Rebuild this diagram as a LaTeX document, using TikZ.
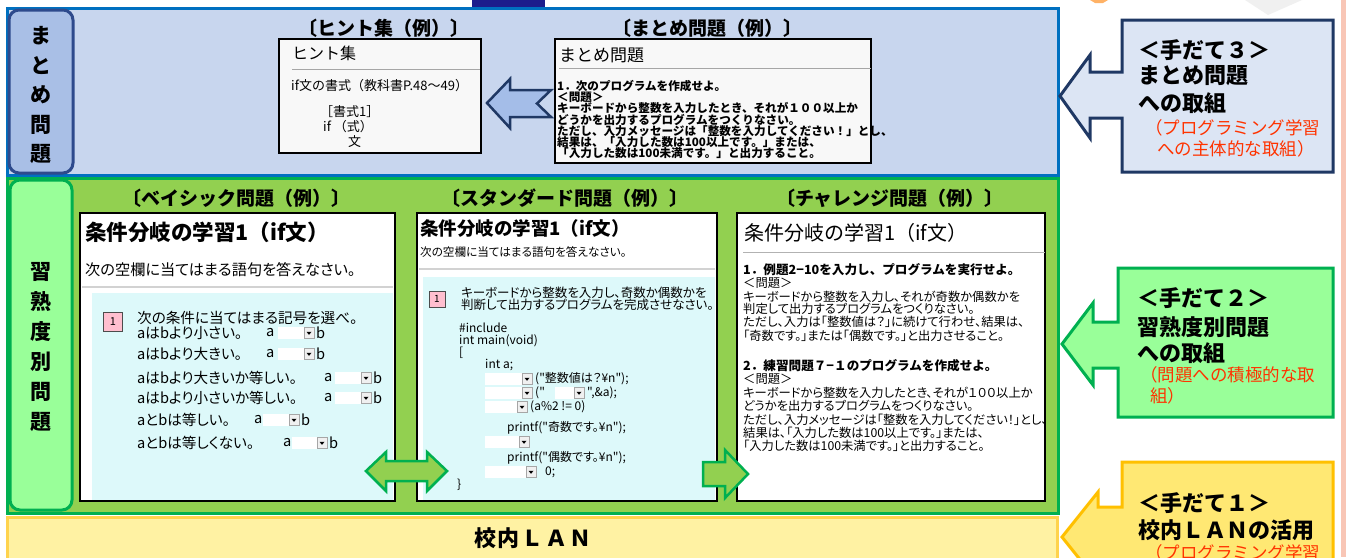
\documentclass[tikz,border=0pt]{standalone}
\usepackage{fontspec}
\setmainfont{Noto Sans CJK JP}
\newfontfamily\pfont{Noto Sans CJK JP}[RawFeature=+palt]
\newcommand\fsz[1]{\fontsize{#1}{#1}\selectfont}
\definecolor{secblue}{HTML}{C8D6EE}
\definecolor{secblueline}{HTML}{0070C0}
\definecolor{labblue}{HTML}{A9BFE6}
\definecolor{labblueline}{HTML}{2E4A8C}
\definecolor{navy}{HTML}{1F3864}
\definecolor{call3bg}{HTML}{DCE5F4}
\definecolor{secgreen}{HTML}{92D050}
\definecolor{greenline}{HTML}{00B050}
\definecolor{labgreen}{HTML}{99FF99}
\definecolor{lanbg}{HTML}{FFF2A3}
\definecolor{lanline}{HTML}{FFD34D}
\definecolor{call1bg}{HTML}{FFE873}
\definecolor{call1line}{HTML}{FFC000}
\definecolor{redtxt}{HTML}{FF3300}
\definecolor{cyanbg}{HTML}{DDF9FA}
\definecolor{hintbg}{HTML}{F8F8F8}
\definecolor{pinkbg}{HTML}{FFBFCF}
\definecolor{arrowblue}{HTML}{A4BDE8}
\definecolor{pinkstrip}{HTML}{F8C6B6}
\definecolor{topnavy}{HTML}{1C1C8C}
\begin{document}
\begin{tikzpicture}[x=1pt,y=-1pt,
  txt/.style={inner sep=0pt, anchor=west},
  ttl/.style={inner sep=0pt, font=\fsz{19}\bfseries},
  vlab/.style={inner sep=0pt, font=\fsz{21}\bfseries},
  calltxt/.style={inner sep=0pt, anchor=west, font=\fsz{22}\bfseries},
  redcall/.style={inner sep=0pt, anchor=west, font=\fsz{17.5}, text=redtxt},
  boxline/.style={draw=black, line width=1.5pt},
  small/.style={txt, font=\pfont\fsz{12.3}},
  chb/.style={txt, font=\fsz{12.6}\bfseries},
  sumb/.style={txt, font=\fsz{11.6}\bfseries},
  code/.style={txt, font=\pfont\fsz{12}},
  row/.style={txt, font=\pfont\fsz{14.6}},
  pinkbox/.style={draw=black!70, line width=1pt, fill=pinkbg, inner sep=0pt, minimum width=19pt, minimum height=19pt, font=\fsz{11}},
  grarrow/.style={draw=greenline, line width=2.5pt, fill=secgreen, line join=miter},
]
\useasboundingbox (0,0) rectangle (1346,557);
\fill[white] (0,0) rectangle (1346,557);
% decorations at the edges
\fill[topnavy] (472,0) rectangle (545,8);
\fill[orange!60] (1090,0) -- (1108,0) -- (1103,3) -- (1095,3) -- cycle;
\fill[black!6] (1245,0) -- (1302,0) -- (1268,15) -- cycle;
\fill[pinkstrip] (1341,0) rectangle (1346,557);

% ===== blue section =====
\draw[secblueline, line width=3pt, fill=secblue] (7,8) rectangle (1058,175);
\draw[labblueline, line width=3pt, fill=labblue, rounded corners=10pt] (9,10) rectangle (73,173);
\foreach \c [count=\i] in {ま,と,め,問,題}
  \node[vlab] (mlab\i) at (41,{36+29.5*(\i-1)}) {\c};

\node[ttl] (hintTitle) at (384,28) {〔ヒント集（例）〕};
\draw[boxline, fill=hintbg] (279,39) rectangle (481,153);
\node[txt, font=\fsz{16}] (hintHead) at (292,53) {ヒント集};
\draw[gray!70, line width=1pt] (292,69) -- (480,69);
\node[txt, font=\fsz{13}] (hint1) at (291,86) {if文の書式（教科書P.48〜49）};
\node[txt, font=\fsz{13}] (hint2) at (320,112) {［書式1］};
\node[txt, font=\fsz{13}] (hint3) at (323,127) {if\hspace{3pt}（式）};
\node[txt, font=\fsz{13}] (hint4) at (348,142) {文};

\node[ttl] (sumTitle) at (707,28) {〔まとめ問題（例）〕};
\draw[boxline, fill=hintbg] (555,39) rectangle (871,163);
\node[txt, font=\fsz{17}] (sumHead) at (559,55) {まとめ問題};
\draw[gray!70, line width=1pt] (559,68) -- (871,68);
\node[sumb] (sum1) at (557,86) {1．次のプログラムを作成せよ。};
\node[sumb] (sum2) at (557,97.2) {＜問題＞};
\node[sumb] (sum3) at (557,108.4) {キーボードから整数を入力したとき、それが１００以上か};
\node[sumb] (sum4) at (557,119.6) {どうかを出力するプログラムをつくりなさい。};
\node[sumb] (sum5) at (557,130.8) {ただし、入力メッセージは「整数を入力してください！」とし、};
\node[sumb] (sum6) at (557,142) {結果は、「入力した数は100以上です。」または、};
\node[sumb] (sum7) at (557,153.2) {「入力した数は100未満です。」と出力すること。};

% hollow blue arrow (hint <- summary)
\draw[navy, line width=2.5pt, fill=arrowblue, line join=miter]
  (487,103) -- (510,79) -- (510,90) -- (551,90) -- (537,103.5) -- (551,117) -- (510,117) -- (510,128) -- cycle;

% callout 3
\draw[navy, line width=3pt, fill=call3bg, line join=miter]
  (1122,20) -- (1333,20) -- (1333,172) -- (1122,172) -- (1122,118) -- (1090,118) -- (1090,138)
  -- (1060,96) -- (1090,55) -- (1090,72) -- (1122,72) -- cycle;
\node[calltxt] (c3a) at (1138,50) {＜手だて３＞};
\node[calltxt] (c3b) at (1138,76) {まとめ問題};
\node[calltxt] (c3c) at (1138,103) {への取組};
\node[redcall] (c3d) at (1145,128) {（プログラミング学習};
\node[redcall] (c3e) at (1157,149) {への主体的な取組）};

% ===== green section =====
\draw[greenline, line width=3pt, fill=secgreen] (7,178) rectangle (1058,513);
\draw[greenline, line width=3pt, fill=labgreen, rounded corners=10pt] (10,180) rectangle (72,510);
\foreach \c [count=\i] in {習,熟,度,別,問,題}
  \node[vlab] (glab\i) at (41,{272+30*(\i-1)}) {\c};

\node[ttl] (basicTitle) at (236,198) {〔ベイシック問題（例）〕};
\node[ttl] (stdTitle) at (565,198) {〔スタンダード問題（例）〕};
\node[ttl] (chTitle) at (890,198) {〔チャレンジ問題（例）〕};

% basic box
\draw[boxline, fill=white] (80,213) rectangle (395,501);
\fill[cyanbg] (92,293) rectangle (393,499.5);
\draw[gray!35, line width=1.5pt] (82,287) -- (393,287);
\node[txt, font=\fsz{21.5}\bfseries] (bT) at (85,232) {条件分岐の学習1（if文）};
\node[txt, font=\pfont\fsz{15.2}] (bS) at (85,270) {次の空欄に当てはまる語句を答えなさい。};
\node[pinkbox] (b1) at (113,322) {1};
\node[txt, font=\pfont\fsz{14.6}] (bQ) at (137,318) {次の条件に当てはまる記号を選べ。};

\newcommand\ddown[3]{%
  \fill[white] (#1,#2-6) rectangle (#3,#2+6);
  \draw[gray!70, line width=0.6pt, fill=gray!12] (#3-11,#2-5.5) rectangle (#3-1,#2+5.5);
  \fill[black] (#3-8.5,#2-1.2) -- (#3-3.5,#2-1.2) -- (#3-6,#2+1.8) -- cycle;}

\node[row] (r1) at (137,333) {aはbより小さい。};
\node[row] (r1a) at (266,333) {a}; \ddown{278}{333}{315}; \node[row] (r1b) at (316,333) {b};
\node[row] (r2) at (137,354) {aはbより大きい。};
\node[row] (r2a) at (266,354) {a}; \ddown{278}{354}{315}; \node[row] (r2b) at (316,354) {b};
\node[row] (r3) at (137,378) {aはbより大きいか等しい。};
\node[row] (r3a) at (324,378) {a}; \ddown{335}{378}{372}; \node[row] (r3b) at (373,378) {b};
\node[row] (r4) at (137,398) {aはbより小さいか等しい。};
\node[row] (r4a) at (324,398) {a}; \ddown{335}{398}{372}; \node[row] (r4b) at (373,398) {b};
\node[row] (r5) at (137,420) {aとbは等しい。};
\node[row] (r5a) at (254,420) {a}; \ddown{263}{420}{300}; \node[row] (r5b) at (301,420) {b};
\node[row] (r6) at (137,443) {aとbは等しくない。};
\node[row] (r6a) at (283,443) {a}; \ddown{292}{443}{328}; \node[row] (r6b) at (329,443) {b};

% standard box
\draw[boxline, fill=white] (417,213) rectangle (717,501);
\fill[cyanbg] (423,277) rectangle (715,499.5);
\draw[gray!35, line width=1.5pt] (419,269) -- (715,269);
\node[txt, font=\fsz{18.5}\bfseries] (sT) at (420,228) {条件分岐の学習1（if文）};
\node[txt, font=\pfont\fsz{11.6}] (sS) at (420,252) {次の空欄に当てはまる語句を答えなさい。};
\node[pinkbox, minimum width=16pt, minimum height=16pt, font=\fsz{10}] (s1) at (437,299) {1};
\node[txt, font=\pfont\fsz{12.5}] (sQ1) at (461,293) {キーボードから整数を入力し、奇数か偶数かを};
\node[txt, font=\pfont\fsz{12.5}] (sQ2) at (461,305) {判断して出力するプログラムを完成させなさい。};
\node[code] (k1) at (459,328) {\#include};
\node[code] (k2) at (459,341) {int main(void)};
\node[code] (k3) at (459,353) {[};
\node[code] (k4) at (485,365) {int a;};
\ddown{485}{379}{533}; \node[code] (k5) at (535,379) {("整数値は？¥n");};
\ddown{485}{393}{533}; \node[code] (k6) at (535,393) {("}; \ddown{555}{393}{585}; \node[code] (k6b) at (587,393) {",\&a);};
\ddown{485}{407}{528}; \node[code] (k7) at (530,407) {(a\%2 != 0)};
\node[code] (k8) at (507,428) {printf("奇数です。¥n");};
\ddown{485}{442}{530};
\node[code] (k9) at (507,458) {printf("偶数です。¥n");};
\ddown{485}{472}{537}; \node[code] (k10) at (545,472) {0;};
\node[code] (k11) at (457,485) {\}};

% challenge box
\draw[boxline, fill=white] (737,213) rectangle (1045,501);
\node[txt, font=\fsz{20}] (cT) at (744,233) {条件分岐の学習1（if文）};
\draw[gray!60, line width=1pt] (743,252) -- (1045,252);
\node[chb] (ch1) at (743,270) {1．例題2−10を入力し、プログラムを実行せよ。};
\node[small] (ch2) at (743,283) {＜問題＞};
\node[small] (ch3) at (743,297) {キーボードから整数を入力し、それが奇数か偶数かを};
\node[small] (ch4) at (743,309) {判定して出力するプログラムをつくりなさい。};
\node[small] (ch5) at (743,322) {ただし、入力は「整数値は？」に続けて行わせ、結果は、};
\node[small] (ch6) at (743,336) {「奇数です。」または「偶数です。」と出力させること。};
\node[chb] (ch7) at (743,366) {2．練習問題７−１のプログラムを作成せよ。};
\node[small] (ch8) at (743,379) {＜問題＞};
\node[small] (ch9) at (743,393) {キーボードから整数を入力したとき、それが１００以上か};
\node[small] (ch10) at (743,406) {どうかを出力するプログラムをつくりなさい。};
\node[small] (ch11) at (743,420) {ただし、入力メッセージは「整数を入力してください！」とし、};
\node[small] (ch12) at (743,433) {結果は、「入力した数は100以上です。」または、};
\node[small] (ch13) at (743,446) {「入力した数は100未満です。」と出力すること。};

% green arrows
\draw[grarrow] (366,471) -- (386,452) -- (386,461) -- (427,461) -- (427,452) -- (447,471)
  -- (427,491) -- (427,481) -- (386,481) -- (386,491) -- cycle;
\draw[grarrow] (703,462) -- (725,462) -- (725,450) -- (748,474) -- (725,498) -- (725,486) -- (703,486) -- cycle;

% callout 2
\draw[greenline, line width=3pt, fill=labgreen, line join=miter]
  (1118,268) -- (1333,268) -- (1333,417) -- (1118,417) -- (1118,368) -- (1093,368) -- (1093,385)
  -- (1062,344) -- (1093,303) -- (1093,322) -- (1118,322) -- cycle;
\node[calltxt] (c2a) at (1137,298) {＜手だて２＞};
\node[calltxt] (c2b) at (1137,327) {習熟度別問題};
\node[calltxt] (c2c) at (1137,353) {への取組};
\node[redcall] (c2d) at (1140,375) {（問題への積極的な取};
\node[redcall] (c2e) at (1150,396) {組）};

% ===== LAN bar =====
\draw[lanline, line width=3pt, fill=lanbg] (7,517) rectangle (1057,562);
\node[inner sep=0pt, font=\fsz{22}\bfseries] (lan) at (533,538) {校\hspace{2pt}内\hspace{2pt}Ｌ\hspace{2pt}Ａ\hspace{2pt}Ｎ};

% callout 1
\draw[call1line, line width=3pt, fill=call1bg, line join=miter]
  (1122,462) -- (1333,462) -- (1333,600) -- (1122,600) -- (1122,567) -- (1098,567) -- (1098,582)
  -- (1062,537) -- (1098,492) -- (1098,507) -- (1122,507) -- cycle;
\node[calltxt] (c1a) at (1138,503) {＜手だて１＞};
\node[calltxt] (c1b) at (1138,530) {校内ＬＡＮの活用};
\node[redcall] (c1c) at (1145,553) {（プログラミング学習};
\end{tikzpicture}
\end{document}
